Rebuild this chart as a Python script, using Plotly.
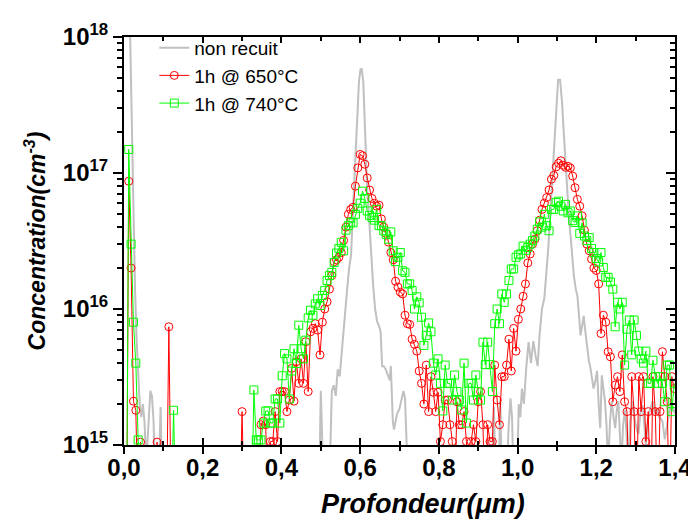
import plotly.graph_objects as go

# ---------------- data (concentrations in units of 1e15 cm^-3) ----------------
depth_step_um = 0.006  # sampling step of the annealed profiles

conc_650_e15 = [
    0.1, 0.1, 87, 20, 2.1, 1.8, 0.3, 1.05, 0.3, 0.3,
    0.3, 0.3, 0.3, 0.3, 1.05, 0.3, 0.3, 0.3, 0.3, 7.4,
    0.3, 0.3, 0.3, 0.3, 0.3, 0.3, 0.3, 0.3, 0.3, 0.3,
    0.3, 0.3, 0.3, 0.3, 0.3, 0.3, 0.3, 0.3, 0.3, 0.3,
    0.3, 0.3, 0.3, 0.3, 0.3, 0.3, 0.3, 0.3, 0.3, 0.3,
    1.76, 0.3, 0.3, 0.3, 0.3, 0.3, 0.3, 0.3, 1.41, 1.5,
    1.41, 0.3, 1.06, 1.06, 1.76, 1.06, 2.47, 2.47, 2.47, 1.76,
    2.14, 3.66, 2.1, 4.1, 2.84, 4.3, 2.84, 5.75, 2.47, 6.8,
    7.2, 7.8, 7.0, 4.6, 8.0, 10, 11.3, 14, 17.6, 22.3,
    23, 24, 26, 32, 40, 49.7, 54, 56, 80, 109,
    137, 134, 116, 92, 75, 65, 60, 57, 58, 46,
    40, 36, 31, 26, 23, 16, 14.5, 13.3, 12.9, 9,
    7.8, 7.7, 6.0, 5.5, 4.9, 3.5, 2.84, 2.0, 3.87, 1.76,
    3.18, 2.44, 1.76, 2.44, 1.06, 1.41, 2.14, 2.14, 1.41, 1.06,
    0.3, 2.08, 1.41, 1.41, 1.76, 1.06, 0.3, 1.06, 1.41, 1.06,
    2.08, 2.47, 1.41, 0.3, 1.41, 1.06, 1.06, 3.87, 2.14, 1.41,
    3.18, 3.18, 3.87, 6.0, 3.5, 7.2, 4.9, 8.4, 10, 12.4,
    15.3, 21.8, 25.4, 30, 32.6, 37.6, 45, 54, 60, 66,
    75, 90, 96, 111, 118, 123, 114, 110, 112, 109,
    95, 78, 64, 57, 48.4, 38, 30, 26.8, 23.3, 20,
    19.2, 15.3, 6.6, 9.0, 8.0, 4.85, 4.45, 2.08, 2.76, 3.18,
    2.47, 4.6, 2.08, 1.76, 0.3, 3.18, 1.76, 0.3, 3.18, 1.76,
    3.18, 1.06, 1.76, 0.3, 3.18, 1.76, 0.3, 1.76, 4.85, 3.18,
    2.08, 0.3, 3.18, 2.6,
]

conc_740_e15 = [
    0.1, 0.1, 149, 30, 8, 4.0, 1.09, 0.3, 0.3, 0.3,
    0.3, 0.3, 0.3, 0.3, 0.3, 0.3, 0.3, 0.3, 0.3, 0.3,
    0.3, 1.8, 0.3, 0.3, 0.3, 0.3, 0.3, 0.3, 0.3, 0.3,
    0.3, 0.3, 0.3, 0.3, 0.3, 0.3, 0.3, 0.3, 0.3, 0.3,
    0.3, 0.3, 0.3, 0.3, 0.3, 0.3, 0.3, 0.3, 0.3, 0.3,
    0.3, 0.3, 0.3, 0.3, 0.3, 2.54, 1.09, 1.09, 1.09, 1.45,
    1.78, 1.78, 1.45, 1.45, 2.18, 2.18, 1.45, 3.23, 4.7, 4.3,
    2.18, 3.5, 5.1, 3.98, 7.6, 5.1, 4.3, 5.9, 8.6, 9.8,
    9.0, 10.9, 11.9, 10.6, 12.6, 13.7, 16.2, 17.6, 18.6, 22,
    25.8, 27.9, 30.9, 26.8, 38, 41, 43.5, 43, 49.7, 55,
    60, 73.5, 65, 52.6, 48.8, 47, 45, 54, 41, 41,
    37.6, 35.4, 32.6, 36.9, 26.8, 22.3, 24, 26, 19.1, 18.6,
    15.3, 15.3, 13.7, 10, 12.3, 11.1, 8.7, 5.4, 6.4, 7.9,
    6.8, 4.0, 3.27, 4.3, 2.84, 1.78, 3.87, 2.84, 2.84, 2.14,
    3.27, 2.47, 2.14, 1.81, 4.0, 1.45, 2.84, 2.84, 2.14, 3.27,
    2.47, 2.14, 5.7, 3.9, 5.7, 3.9, 2.47, 7.8, 10, 7.8,
    12.9, 11.2, 12.9, 16.2, 19.7, 19.7, 24, 25, 25.4, 29,
    27, 28.3, 30, 31.8, 34.4, 38.6, 43.7, 40, 49.7, 41,
    37.6, 54, 54, 60.6, 62, 57, 52.6, 58.8, 51, 52.6,
    44.6, 43.3, 48.4, 36, 43, 34.4, 31.8, 33.5, 27.9, 26,
    23.5, 22.2, 26, 20.2, 17.1, 17.1, 15.8, 14, 7.4, 11.2,
    10, 11.2, 3.87, 7.1, 8.3, 4.6, 8.3, 6.4, 4.9, 4.3,
    4.0, 4.9, 2.84, 2.84, 4.2, 3.18, 2.84, 3.18, 2.84, 2.08,
    3.87, 3.87, 1.76, 2.84,
]

depth_nr = [
    0.000, 0.012, 0.016, 0.020, 0.024, 0.028, 0.032, 0.036, 0.040, 0.044,
    0.048, 0.052, 0.056, 0.060, 0.064, 0.067, 0.071, 0.075, 0.080, 0.088,
    0.093, 0.097,
    0.496, 0.500, 0.507, 0.522, 0.528, 0.533, 0.538, 0.543, 0.548, 0.552,
    0.557, 0.562, 0.567, 0.572, 0.577, 0.582, 0.587, 0.592, 0.597, 0.601,
    0.604, 0.608, 0.613, 0.618, 0.623, 0.628, 0.633, 0.638, 0.643, 0.648,
    0.652, 0.656, 0.660, 0.665, 0.670, 0.675, 0.678, 0.683, 0.686, 0.690,
    0.694, 0.700, 0.705, 0.710, 0.714, 0.718, 0.722,
    0.935, 0.940, 0.944, 0.952, 0.956, 0.960, 0.972, 0.977, 0.982, 0.986,
    0.990, 0.998, 1.003, 1.007, 1.011, 1.016, 1.022, 1.028, 1.034, 1.040,
    1.046, 1.051, 1.056, 1.062, 1.068, 1.073, 1.078, 1.083, 1.088, 1.093,
    1.098, 1.103, 1.108, 1.113, 1.118, 1.123, 1.127, 1.131, 1.135, 1.139,
    1.143, 1.148, 1.152, 1.156, 1.160, 1.164, 1.168, 1.173, 1.177, 1.181,
    1.185, 1.189, 1.193, 1.198, 1.202, 1.206, 1.210, 1.214, 1.218, 1.222,
    1.226, 1.230, 1.235, 1.239, 1.244, 1.248, 1.252, 1.256, 1.260, 1.264,
    1.268, 1.273, 1.277, 1.281, 1.286, 1.293, 1.297, 1.302, 1.307, 1.313,
    1.318, 1.322, 1.326, 1.331, 1.336, 1.343, 1.348, 1.355, 1.360, 1.368,
    1.374, 1.380, 1.385, 1.390, 1.395, 1.400,
]
conc_nr_e15 = [
    3000, 3000, 900, 200, 60, 14, 6, 3.2, 2.0, 1.6,
    2.0, 1.5, 0.8, 1.1, 2.0, 2.5, 2.3, 1.5, 0.5, 0.5,
    1.9, 0.5,
    0.5, 2.5, 0.5, 0.5, 2.5, 2.75, 2.3, 3.6, 3.2, 4.5,
    7, 10, 14, 20, 25, 55, 110, 250, 470, 580,
    580, 470, 170, 75, 45, 25, 15, 10, 8.1, 7.5,
    6.8, 3.8, 3.8, 3.6, 3.3, 3.0, 3.8, 1.5, 1.3, 1.5,
    1.7, 1.85, 2.1, 2.5, 2.2, 1.3, 0.5,
    0.5, 1.9, 0.5, 0.5, 2.2, 0.5, 0.5, 1.3, 2.2, 1.6,
    0.5, 0.5, 2.0, 1.6, 2.6, 2.0, 3.7, 5.7, 4.0, 5.8,
    4.5, 3.8, 6.5, 10, 12, 18, 28, 50, 90, 185,
    330, 485, 485, 330, 185, 100, 67, 45, 34, 24,
    17.5, 14, 12.5, 9, 6.4, 7.5, 8.9, 6.5, 5.1, 4.2,
    3.7, 3.0, 2.6, 3.0, 3.5, 2.0, 1.33, 3.25, 2.6, 2.1,
    1.4, 0.7, 1.5, 2.1, 1.6, 1.33, 1.8, 2.1, 1.2, 0.7,
    1.4, 1.8, 1.2, 0.7, 1.5, 2.1, 1.6, 1.33, 1.2, 1.8,
    1.96, 1.4, 1.0, 1.5, 1.8, 2.1, 1.7, 1.86, 1.6, 1.5,
    1.1, 1.4, 1.8, 2.1, 1.9, 1.7,
]

series_names = ["non recuit", "1h @ 650°C", "1h @ 740°C"]
x_tick_vals = [0.0, 0.2, 0.4, 0.6, 0.8, 1.0, 1.2, 1.4]
y_tick_vals = [1e15, 1e16, 1e17, 1e18]
y_tick_text = ["<b>10<sup>15</sup></b>", "<b>10<sup>16</sup></b>",
               "<b>10<sup>17</sup></b>", "<b>10<sup>18</sup></b>"]
x_title = "<b><i>Profondeur(μm)</i></b>"
y_title = "<b><i>Concentration(cm<sup>-3</sup>)</i></b>"

E15 = 1e15
depth_650 = [round(i * depth_step_um, 4) for i in range(len(conc_650_e15))]
depth_740 = [round(i * depth_step_um, 4) for i in range(len(conc_740_e15))]

FONT = "Arial, 'Liberation Sans', sans-serif"

fig = go.Figure()
fig.add_trace(go.Scatter(
    x=depth_nr, y=[v * E15 for v in conc_nr_e15], mode="lines",
    name=series_names[0], line=dict(color="#c0c0c0", width=2)))
fig.add_trace(go.Scatter(
    x=depth_650, y=[v * E15 for v in conc_650_e15], mode="lines+markers",
    name=series_names[1], line=dict(color="#ff0000", width=1),
    marker=dict(symbol="circle-open", size=8, color="#ff0000", line=dict(width=1))))
fig.add_trace(go.Scatter(
    x=depth_740, y=[v * E15 for v in conc_740_e15], mode="lines+markers",
    name=series_names[2], line=dict(color="#00ff00", width=1),
    marker=dict(symbol="square-open", size=8, color="#00ff00", line=dict(width=1))))
# empty helper traces so the frame axes (top / right / inner bottom ticks) are drawn
fig.add_trace(go.Scatter(x=[None], y=[None], xaxis="x2", yaxis="y", showlegend=False, hoverinfo="skip"))
fig.add_trace(go.Scatter(x=[None], y=[None], xaxis="x3", yaxis="y2", showlegend=False, hoverinfo="skip"))

axis_common = dict(showgrid=False, zeroline=False, showline=True, linecolor="black",
                   linewidth=2, tickcolor="black", tickwidth=2)

fig.update_layout(
    width=696, height=521,
    margin=dict(l=116, r=19, t=27, b=84),
    paper_bgcolor="white", plot_bgcolor="white",
    separators=",.",
    font=dict(family=FONT, color="black"),
    showlegend=True,
    legend=dict(x=0.055, y=1.02, xanchor="left", yanchor="top",
                bgcolor="rgba(0,0,0,0)", font=dict(size=19, family=FONT),
                tracegroupgap=0),
    xaxis=dict(
        **axis_common, range=[0, 1.4], tickmode="array", tickvals=x_tick_vals,
        ticks="outside", ticklen=7, showticklabels=False,
        minor=dict(dtick=0.1, tick0=0, ticks="outside", ticklen=4, tickwidth=2, tickcolor="black"),
    ),
    xaxis2=dict(
        **axis_common, range=[0, 1.4], overlaying="x", anchor="y", side="bottom",
        tickmode="array", tickvals=x_tick_vals, tickformat=".1f",
        ticks="inside", ticklen=7, showticklabels=True, ticklabelstandoff=0,
        tickfont=dict(size=24, family=FONT, weight="bold"),
        minor=dict(dtick=0.1, tick0=0, ticks="inside", ticklen=4, tickwidth=2, tickcolor="black"),
    ),
    xaxis3=dict(
        **axis_common, range=[0, 1.4], overlaying="x", anchor="y2", side="top",
        tickmode="array", tickvals=x_tick_vals, ticks="inside", ticklen=6, showticklabels=False,
        minor=dict(dtick=0.1, tick0=0, ticks="inside", ticklen=4, tickwidth=2, tickcolor="black"),
    ),
    yaxis=dict(
        **axis_common, type="log", range=[15, 18], tickmode="array",
        tickvals=y_tick_vals, ticktext=y_tick_text, ticks="outside", ticklen=9,
        tickfont=dict(size=24, family=FONT),
        minor=dict(dtick="D1", ticks="outside", ticklen=5, tickwidth=2, tickcolor="black"),
        title=dict(text=y_title, font=dict(size=23, family=FONT), standoff=11),
    ),
    yaxis2=dict(
        **axis_common, type="log", range=[15, 18], overlaying="y", anchor="x3", side="right",
        tickmode="array", tickvals=y_tick_vals, ticks="inside", ticklen=9, showticklabels=False,
        minor=dict(dtick="D1", ticks="inside", ticklen=5, tickwidth=2, tickcolor="black"),
    ),
    annotations=[dict(
        text=x_title, xref="paper", yref="paper", x=0.542, y=-0.145,
        xanchor="center", yanchor="middle", showarrow=False,
        font=dict(size=27, family=FONT, color="black"),
    )],
)

fig.write_html("out.html")
